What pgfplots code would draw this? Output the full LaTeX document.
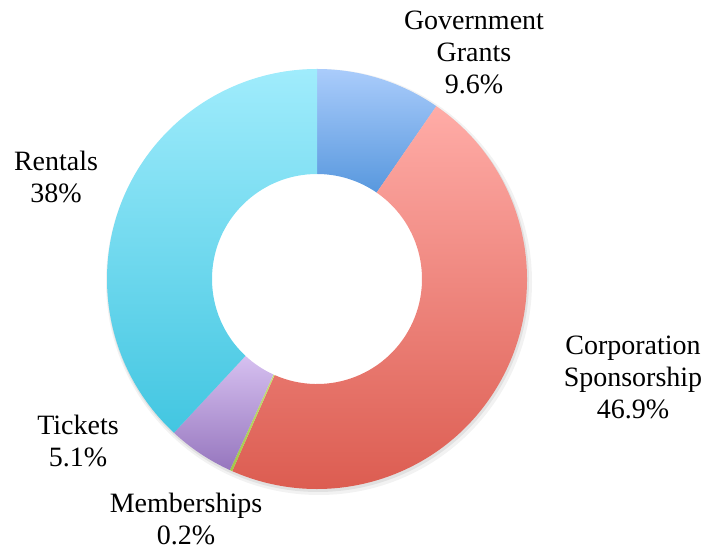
\documentclass[border=0pt]{standalone}
\usepackage{pgfplots}
\usepackage{pgfplotstable}
\pgfplotsset{compat=1.18}
\usepackage{fontspec}
\setmainfont{Liberation Serif}

\definecolor{govtop}{RGB}{170,204,251}
\definecolor{govbot}{RGB}{88,152,222}
\definecolor{corptop}{RGB}{255,172,167}
\definecolor{corpbot}{RGB}{218,88,76}
\definecolor{memtop}{RGB}{200,225,120}
\definecolor{membot}{RGB}{160,200,70}
\definecolor{tictop}{RGB}{214,192,240}
\definecolor{ticbot}{RGB}{150,118,190}
\definecolor{rentop}{RGB}{160,236,252}
\definecolor{renbot}{RGB}{66,198,225}

% share of income, clockwise from the top
\pgfplotstableread{
name value top bottom
Government 9.6 govtop govbot
Corporation 46.9 corptop corpbot
Memberships 0.2 memtop membot
Tickets 5.1 tictop ticbot
Rentals 38 rentop renbot
}\slices

\begin{document}
\begin{tikzpicture}
\begin{axis}[
    width=707bp, height=552bp,
    scale only axis,
    xmin=0, xmax=707, ymin=0, ymax=552,
    hide axis,
    clip=false,
]
\path (axis cs:0,0) rectangle (axis cs:707,552);

% soft shadow under the ring (kept out of the hole)
\fill[black, opacity=0.05, even odd rule]
    (axis cs:319,270) circle[radius=213bp] (axis cs:319,270) circle[radius=110bp];
\fill[black, opacity=0.07, even odd rule]
    (axis cs:318,271) circle[radius=211bp] (axis cs:318,271) circle[radius=110bp];

\pgfmathsetmacro\total{0}
\pgfplotsforeachungrouped \i in {0,...,4}{%
  \pgfplotstablegetelem{\i}{value}\of\slices
  \pgfmathsetmacro\total{\total+\pgfplotsretval}%
}
\pgfmathsetmacro\cum{0}
\pgfplotsforeachungrouped \i in {0,...,4}{%
  \pgfplotstablegetelem{\i}{value}\of\slices \let\val\pgfplotsretval
  \pgfplotstablegetelem{\i}{top}\of\slices \let\ctop\pgfplotsretval
  \pgfplotstablegetelem{\i}{bottom}\of\slices \let\cbot\pgfplotsretval
  \pgfmathsetmacro\fa{\cum/\total}%
  \pgfmathsetmacro\fb{(\cum+\val)/\total}%
  \pgfmathsetmacro\aa{90-360*\fa}%
  \pgfmathsetmacro\ab{90-360*\fb}%
  \pgfmathsetmacro\xa{317+210*cos(\aa)}%
  \pgfmathsetmacro\ya{273+210*sin(\aa)}%
  \pgfmathsetmacro\xb{317+105*cos(\ab)}%
  \pgfmathsetmacro\yb{273+105*sin(\ab)}%
  \edef\wedge{\noexpand\shade[top color=\ctop, bottom color=\cbot]
    (axis cs:\xa,\ya) arc[start angle=\aa, end angle=\ab, radius=210bp]
    -- (axis cs:\xb,\yb) arc[start angle=\ab, end angle=\aa, radius=105bp] -- cycle;}%
  \wedge
  \pgfmathsetmacro\cum{\cum+\val}%
}

\tikzset{lbl/.style={align=center, inner sep=0pt,
    font=\fontsize{28bp}{32bp}\selectfont}}
\node[lbl] at (axis cs:474,500) {Government\\Grants\\9.6\%};
\node[lbl] at (axis cs:633,175) {Corporation\\Sponsorship\\46.9\%};
\node[lbl] at (axis cs:186,33) {Memberships\\0.2\%};
\node[lbl] at (axis cs:78,111) {Tickets\\5.1\%};
\node[lbl] at (axis cs:56,375) {Rentals\\38\%};
\end{axis}
\end{tikzpicture}
\end{document}
